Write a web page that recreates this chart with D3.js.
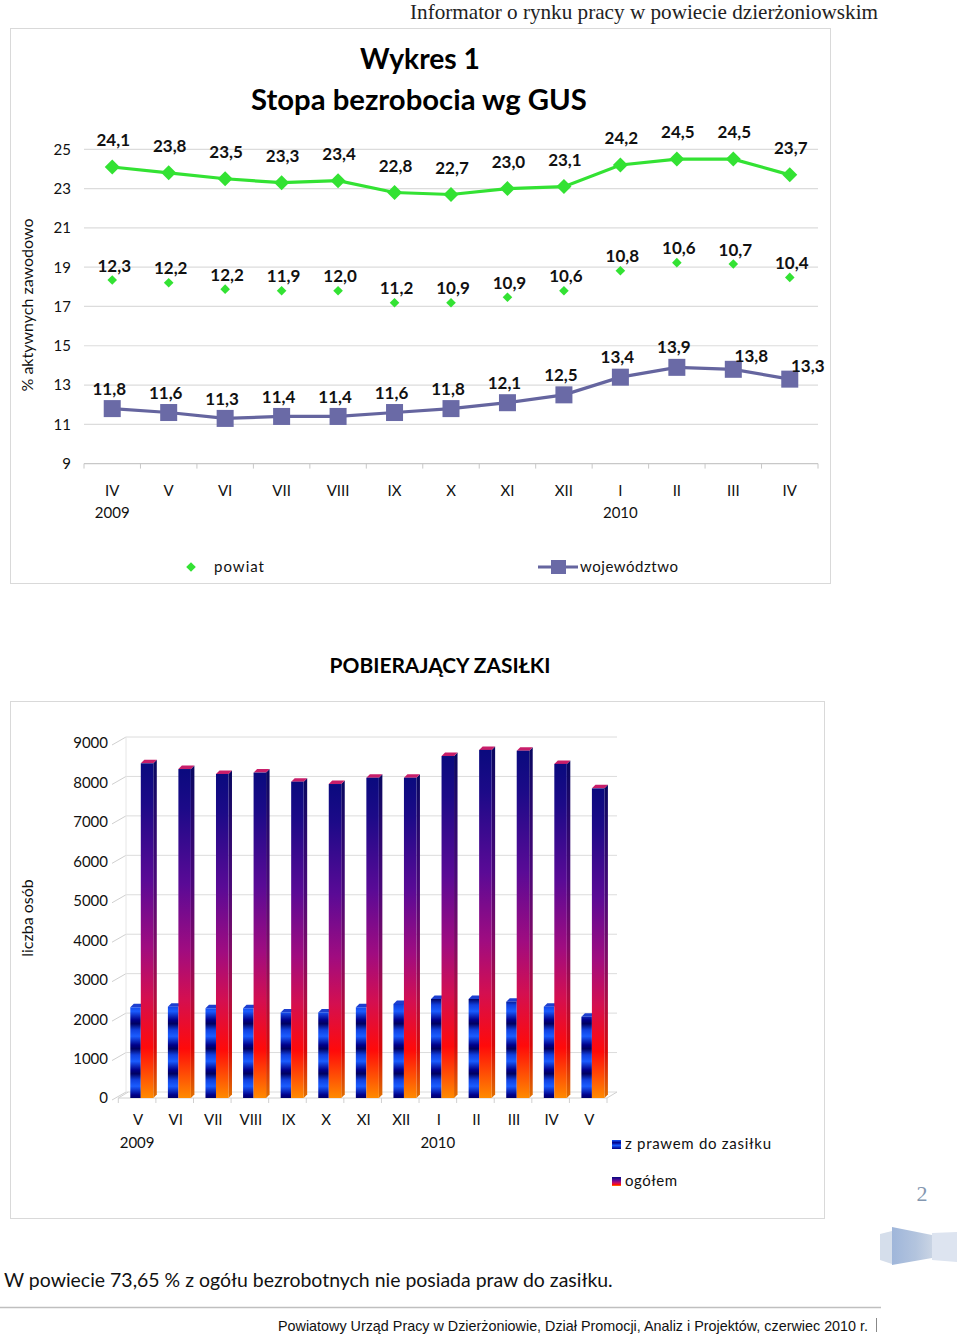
<!DOCTYPE html>
<html><head><meta charset="utf-8">
<script src="https://cdn.jsdelivr.net/npm/d3@7"></script>
<style>html,body{margin:0;padding:0;background:#fff;}svg{display:block;}</style>
</head><body>
<script>
// ---------- DATA ----------
const months1 = ["IV","V","VI","VII","VIII","IX","X","XI","XII","I","II","III","IV"];
const years1 = ["2009","","","","","","","","","2010","","",""];
const greenLine = [24.1,23.8,23.5,23.3,23.4,22.8,22.7,23.0,23.1,24.2,24.5,24.5,23.7];
const powiatLabels = [12.3,12.2,12.2,11.9,12.0,11.2,10.9,10.9,10.6,10.8,10.6,10.7,10.4];
const powiatPlotted = [18.35,18.21,17.88,17.80,17.80,17.19,17.19,17.47,17.80,18.82,19.23,19.16,18.48];
const wojewodztwo = [11.8,11.6,11.3,11.4,11.4,11.6,11.8,12.1,12.5,13.4,13.9,13.8,13.3];
const yTicks1 = [9,11,13,15,17,19,21,23,25];

const months2 = ["V","VI","VII","VIII","IX","X","XI","XII","I","II","III","IV","V"];
const years2 = ["2009","","","","","","","","2010","","","",""];
const zPrawem = [2300,2315,2275,2275,2170,2170,2300,2385,2510,2510,2440,2315,2060];
const ogolem = [8485,8340,8215,8250,8020,7960,8120,8120,8670,8825,8805,8470,7850];
const yTicks2 = [0,1000,2000,3000,4000,5000,6000,7000,8000,9000];

// ---------- SETUP ----------
const W = 960, H = 1337;
const FONT = "Lato, 'Open Sans', sans-serif";
const svg = d3.select("body").append("svg").attr("width", W).attr("height", H)
  .attr("font-family", FONT);
svg.append("rect").attr("width", W).attr("height", H).attr("fill", "#fff");
const fmt = v => d3.format(".1f")(v).replace(".", ",");

const defs = svg.append("defs");
const gR = defs.append("linearGradient").attr("id","gRed").attr("x1",0).attr("y1",0).attr("x2",0).attr("y2",1);
[[0,"#0a0a7e"],[0.12,"#1c0a88"],[0.35,"#5a0a96"],[0.55,"#a00c80"],[0.7,"#d40f50"],[0.85,"#ff0a0a"],[1,"#ff8a00"]]
  .forEach(([o,c]) => gR.append("stop").attr("offset",o).attr("stop-color",c));
const gRs = defs.append("linearGradient").attr("id","gRedSide").attr("x1",0).attr("y1",0).attr("x2",0).attr("y2",1);
[[0,"#080860"],[0.35,"#480878"],[0.55,"#800a66"],[0.7,"#b00c40"],[0.85,"#d80808"],[1,"#e07000"]]
  .forEach(([o,c]) => gRs.append("stop").attr("offset",o).attr("stop-color",c));
const gB = defs.append("linearGradient").attr("id","gBlue").attr("gradientUnits","userSpaceOnUse")
  .attr("x1",0).attr("y1",1005).attr("x2",0).attr("y2",1030).attr("spreadMethod","repeat");
[[0,"#1040e0"],[0.25,"#1a5cff"],[0.6,"#00008a"],[0.75,"#000060"],[1,"#1040e0"]]
  .forEach(([o,c]) => gB.append("stop").attr("offset",o).attr("stop-color",c));
const gBl = defs.append("linearGradient").attr("id","gBlueLeg").attr("x1",0).attr("y1",0).attr("x2",0).attr("y2",1);
[[0,"#1a5cff"],[0.3,"#00008a"],[0.6,"#1a5cff"],[1,"#000080"]]
  .forEach(([o,c]) => gBl.append("stop").attr("offset",o).attr("stop-color",c));
const gDeco = defs.append("linearGradient").attr("id","gDeco").attr("x1",0).attr("y1",0).attr("x2",1).attr("y2",0);
[[0,"#9fb6da"],[0.6,"#b3c4de"],[1,"#c9d4e4"]].forEach(([o,c]) => gDeco.append("stop").attr("offset",o).attr("stop-color",c));

// ---------- HEADER ----------
svg.append("text").attr("x", 878).attr("y", 19).attr("text-anchor","end")
  .attr("font-family","'Liberation Serif', 'Times New Roman', serif").attr("font-size",21)
  .attr("fill","#222").attr("textLength",468).attr("lengthAdjust","spacingAndGlyphs")
  .text("Informator o rynku pracy w powiecie dzierżoniowskim");

// ---------- CHART 1 ----------
svg.append("rect").attr("x",10.5).attr("y",28.5).attr("width",820).attr("height",555)
  .attr("fill","none").attr("stroke","#d9d9d9");

function fitFont(sel, target){
  const l = sel.node().getComputedTextLength();
  const fs = parseFloat(sel.attr("font-size"));
  sel.attr("font-size", fs*target/l);
}
fitFont(svg.append("text").attr("x",420).attr("y",69).attr("text-anchor","middle")
  .attr("font-weight","bold").attr("font-size",28).attr("fill","#000").text("Wykres 1"), 120);
fitFont(svg.append("text").attr("x",419).attr("y",110).attr("text-anchor","middle")
  .attr("font-weight","bold").attr("font-size",28).attr("fill","#000").text("Stopa bezrobocia wg GUS"), 336);

const x1 = d3.scaleBand().domain(d3.range(months1.length)).range([84, 818]);
const cx1 = i => x1(i) + x1.bandwidth()/2;
const y1 = d3.scaleLinear().domain([9, 25]).range([463.6, 149.3]);

const g1 = svg.append("g");
g1.selectAll("line.grid").data(yTicks1.filter(t => t > 9)).join("line")
  .attr("x1",84).attr("x2",818).attr("y1",d=>y1(d)).attr("y2",d=>y1(d))
  .attr("stroke","#dcdcdc").attr("stroke-width",1.2);
g1.append("line").attr("x1",84).attr("x2",818).attr("y1",y1(9)).attr("y2",y1(9))
  .attr("stroke","#c8c8c8").attr("stroke-width",1.2);
g1.selectAll("line.xt").data(d3.range(months1.length+1)).join("line")
  .attr("x1",i=>84+i*x1.bandwidth()).attr("x2",i=>84+i*x1.bandwidth())
  .attr("y1",y1(9)).attr("y2",y1(9)+5).attr("stroke","#c8c8c8");
g1.selectAll("text.yt").data(yTicks1).join("text")
  .attr("x",71).attr("y",d=>y1(d)).attr("dy","0.36em").attr("text-anchor","end")
  .attr("font-size",15).attr("fill","#111").text(d=>d);
g1.selectAll("text.xl").data(months1).join("text")
  .attr("x",(d,i)=>cx1(i)).attr("y",491).attr("dy","0.36em").attr("text-anchor","middle")
  .attr("font-size",15).attr("fill","#111").text(d=>d);
g1.selectAll("text.yl").data(years1).join("text")
  .attr("x",(d,i)=>cx1(i)).attr("y",513).attr("dy","0.36em").attr("text-anchor","middle")
  .attr("font-size",15).attr("fill","#111").text(d=>d);
svg.append("text").attr("transform","translate(27,305) rotate(-90)").attr("text-anchor","middle")
  .attr("dy","0.36em").attr("font-size",16).attr("fill","#111").text("% aktywnych zawodowo");

const GREEN = "#33e233", PURPLE = "#65659f";
const diamond = (cx, cy, r) => `M${cx},${cy-r}L${cx+r},${cy}L${cx},${cy+r}L${cx-r},${cy}Z`;

const line1 = d3.line().x((d,i)=>cx1(i)).y(d=>y1(d));
g1.append("path").attr("d",line1(greenLine)).attr("fill","none").attr("stroke",GREEN).attr("stroke-width",3.2);
g1.selectAll("path.gm").data(greenLine).join("path").attr("d",(d,i)=>diamond(cx1(i),y1(d),7.5)).attr("fill",GREEN);
g1.append("path").attr("d",line1(wojewodztwo)).attr("fill","none").attr("stroke",PURPLE).attr("stroke-width",3.2);
g1.selectAll("rect.pm").data(wojewodztwo).join("rect")
  .attr("x",(d,i)=>cx1(i)-8.5).attr("y",d=>y1(d)-8.5).attr("width",17).attr("height",17).attr("fill","#6a6aa6");
g1.selectAll("path.pw").data(powiatPlotted).join("path").attr("d",(d,i)=>diamond(cx1(i),y1(d),4.8)).attr("fill",GREEN);

const lblStyle = s => s.attr("text-anchor","middle").attr("dy","0.36em").attr("font-size",17)
  .attr("font-weight","bold").attr("fill","#111");
g1.selectAll("text.lg").data(greenLine).join("text").call(lblStyle)
  .attr("x",(d,i)=>cx1(i)+1).attr("y",d=>y1(d)-27).text(fmt);
g1.selectAll("text.lp").data(powiatPlotted).join("text").call(lblStyle)
  .attr("x",(d,i)=>cx1(i)+2).attr("y",d=>y1(d)-14.5).text((d,i)=>fmt(powiatLabels[i]));
// labels of the last points sit to the upper right (as in the source chart), others above
const nW = wojewodztwo.length;
g1.selectAll("text.lw").data(wojewodztwo).join("text").call(lblStyle)
  .attr("x",(d,i)=>cx1(i) + (i >= nW-2 ? 18 : -3))
  .attr("y",(d,i)=>y1(d) - (i >= nW-2 ? 13 : 20)).text(fmt);

svg.append("path").attr("d",diamond(191,567,4.8)).attr("fill",GREEN);
svg.append("text").attr("x",214).attr("y",567).attr("dy","0.36em").attr("font-size",15).attr("fill","#111")
  .attr("textLength",50).attr("lengthAdjust","spacing").text("powiat");
svg.append("line").attr("x1",538).attr("x2",578).attr("y1",567).attr("y2",567).attr("stroke",PURPLE).attr("stroke-width",3);
svg.append("rect").attr("x",551).attr("y",560).attr("width",15).attr("height",14).attr("fill","#6a6aa6");
svg.append("text").attr("x",580).attr("y",567).attr("dy","0.36em").attr("font-size",15).attr("fill","#111")
  .attr("textLength",98).attr("lengthAdjust","spacing").text("województwo");

// ---------- CHART 2 ----------
fitFont(svg.append("text").attr("x",440).attr("y",673).attr("text-anchor","middle")
  .attr("font-weight","bold").attr("font-size",21).attr("fill","#000").text("POBIERAJĄCY ZASIŁKI"), 221);
svg.append("rect").attr("x",10.5).attr("y",701.5).attr("width",814).attr("height",517)
  .attr("fill","none").attr("stroke","#d9d9d9");

const x2 = d3.scaleBand().domain(d3.range(months2.length)).range([118.3, 607]);
const bw = x2.bandwidth();
const y2 = d3.scaleLinear().domain([0, 9000]).range([1098, 743]);
const DX = 10, DY = -6;
const g2 = svg.append("g");
g2.selectAll("line.bg").data(yTicks2).join("line")
  .attr("x1",116+DX).attr("x2",607+DX).attr("y1",d=>y2(d)+DY).attr("y2",d=>y2(d)+DY)
  .attr("stroke","#dcdcdc");
g2.selectAll("line.lw").data(yTicks2).join("line")
  .attr("x1",112).attr("x2",116+DX).attr("y1",d=>y2(d)+2).attr("y2",d=>y2(d)+DY)
  .attr("stroke","#d0d0d0");
g2.append("line").attr("x1",116+DX).attr("x2",116+DX).attr("y1",y2(9000)+DY).attr("y2",y2(0)+DY).attr("stroke","#e6e6e6");
g2.append("line").attr("x1",118.3).attr("x2",607).attr("y1",y2(0)).attr("y2",y2(0)).attr("stroke","#d0d0d0");
g2.append("line").attr("x1",607).attr("x2",607+DX).attr("y1",y2(0)).attr("y2",y2(0)+DY).attr("stroke","#d0d0d0");
g2.append("line").attr("x1",118.3).attr("x2",118.3+DX).attr("y1",y2(0)).attr("y2",y2(0)+DY).attr("stroke","#d0d0d0");
g2.selectAll("line.xt2").data(d3.range(months2.length+1)).join("line")
  .attr("x1",i=>118.3+i*bw).attr("x2",i=>118.3+i*bw).attr("y1",y2(0)).attr("y2",y2(0)+5).attr("stroke","#d0d0d0");
g2.selectAll("text.yt2").data(yTicks2).join("text")
  .attr("x",108).attr("y",d=>y2(d)).attr("dy","0.36em").attr("text-anchor","end")
  .attr("font-size",15).attr("fill","#111").text(d=>d);
g2.selectAll("text.xl2").data(months2).join("text")
  .attr("x",(d,i)=>x2(i)+bw/2+1).attr("y",1120).attr("dy","0.36em").attr("text-anchor","middle")
  .attr("font-size",15).attr("fill","#111").text(d=>d);
g2.selectAll("text.yr2").data(years2).join("text")
  .attr("x",(d,i)=>x2(i)+bw/2).attr("y",1143).attr("dy","0.36em").attr("text-anchor","middle")
  .attr("font-size",15).attr("fill","#111").text(d=>d);
svg.append("text").attr("transform","translate(27,918) rotate(-90)").attr("text-anchor","middle")
  .attr("dy","0.36em").attr("font-size",16).attr("fill","#111").text("liczba osób");

const bTop = 3.5, bDx = 3.5;
const blueX0 = i => x2(i) + 12, blueX1 = i => x2(i) + 22.5;
const redX0 = i => x2(i) + 22.5, redX1 = i => x2(i) + 35;
const gb = g2.selectAll("g.blue").data(zPrawem).join("g");
gb.append("path").attr("d",(d,i)=>{const t=y2(d),a=blueX0(i),b=blueX1(i);
  return `M${a},${t}L${a+bDx},${t-bTop}L${b+bDx},${t-bTop}L${b},${t}Z`;}).attr("fill","#1d3fd0");
gb.append("rect").attr("x",(d,i)=>blueX0(i)).attr("y",d=>y2(d)).attr("width",(d,i)=>blueX1(i)-blueX0(i))
  .attr("height",d=>y2(0)-y2(d)).attr("fill","url(#gBlue)");
const gr = g2.selectAll("g.red").data(ogolem).join("g");
gr.append("path").attr("d",(d,i)=>{const t=y2(d),b=redX1(i);
  return `M${b},${t}L${b+bDx},${t-bTop}L${b+bDx},${y2(0)-bTop}L${b},${y2(0)}Z`;}).attr("fill","url(#gRedSide)");
gr.append("path").attr("d",(d,i)=>{const t=y2(d),a=redX0(i),b=redX1(i);
  return `M${a},${t}L${a+bDx},${t-bTop}L${b+bDx},${t-bTop}L${b},${t}Z`;}).attr("fill","#c81e6a");
gr.append("rect").attr("x",(d,i)=>redX0(i)).attr("y",d=>y2(d)).attr("width",(d,i)=>redX1(i)-redX0(i))
  .attr("height",d=>y2(0)-y2(d)).attr("fill","url(#gRed)");

svg.append("rect").attr("x",612).attr("y",1140).attr("width",9).attr("height",9).attr("fill","url(#gBlueLeg)");
svg.append("text").attr("x",625).attr("y",1144).attr("dy","0.36em").attr("font-size",15).attr("fill","#111")
  .attr("textLength",146).attr("lengthAdjust","spacing").text("z prawem do zasiłku");
svg.append("rect").attr("x",612).attr("y",1177).attr("width",9).attr("height",9).attr("fill","url(#gRed)");
svg.append("text").attr("x",625).attr("y",1181).attr("dy","0.36em").attr("font-size",15).attr("fill","#111")
  .attr("textLength",52).attr("lengthAdjust","spacing").text("ogółem");

// ---------- PAGE DECORATION ----------
svg.append("text").attr("x",922).attr("y",1193).attr("dy","0.36em").attr("text-anchor","middle")
  .attr("font-family","'Liberation Serif', serif").attr("font-size",22).attr("fill","#8497b0").text("2");
svg.append("path").attr("d","M880,1234L892,1231L892,1264L880,1260Z").attr("fill","#d5deeb");
svg.append("path").attr("d","M892,1227L932,1235L932,1258L892,1265Z").attr("fill","url(#gDeco)");
svg.append("path").attr("d","M932,1233L957,1232L957,1262L932,1260Z").attr("fill","#dde4f0");

// ---------- FOOTER TEXT ----------
fitFont(svg.append("text").attr("x",4).attr("y",1287).attr("font-size",20).attr("fill","#111")
  .text("W powiecie 73,65 % z ogółu bezrobotnych nie posiada praw do zasiłku."), 609);
svg.append("line").attr("x1",0).attr("x2",881).attr("y1",1307.5).attr("y2",1307.5).attr("stroke","#bfbfbf").attr("stroke-width",1.5);
svg.append("text").attr("x",278).attr("y",1331).attr("font-family","'Liberation Sans Narrow', 'Liberation Sans', Arial, sans-serif")
  .attr("font-size",15).attr("fill","#111").attr("textLength",590).attr("lengthAdjust","spacingAndGlyphs")
  .text("Powiatowy Urząd Pracy w Dzierżoniowie, Dział Promocji, Analiz i Projektów,  czerwiec  2010 r.");
svg.append("line").attr("x1",876.5).attr("x2",876.5).attr("y1",1318).attr("y2",1332).attr("stroke","#888").attr("stroke-width",1);
</script>
</body></html>
